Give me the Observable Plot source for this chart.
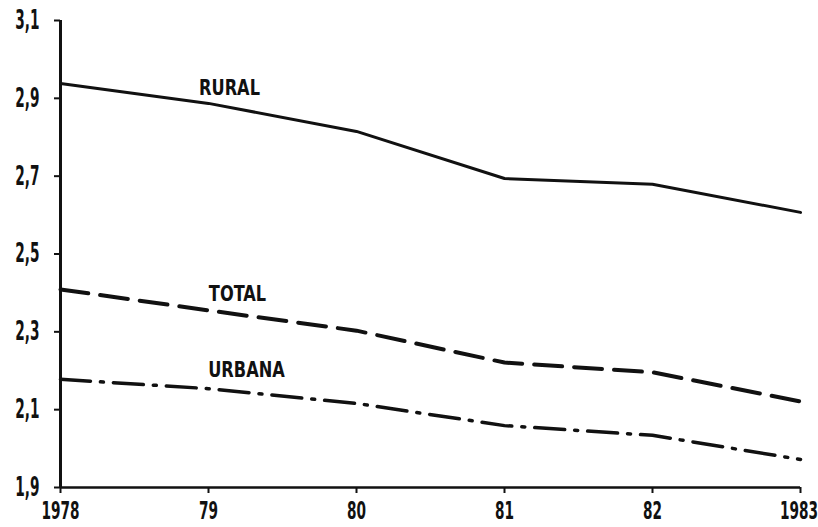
<!DOCTYPE html>
<html>
<head>
<meta charset="utf-8">
<script src="https://cdn.jsdelivr.net/npm/d3@7"></script>
<script src="https://cdn.jsdelivr.net/npm/@observablehq/plot@0.6"></script>
<style>
  html, body { margin: 0; padding: 0; background: #fff; }
  svg { font-family: "DejaVu Sans Condensed", "Liberation Sans Narrow", sans-serif; }
</style>
</head>
<body>
<div id="chart"></div>
<script>
const years = [1978, 1979, 1980, 1981, 1982, 1983];
const xTickLabels = ["1978", "79", "80", "81", "82", "1983"];
const yTicks = [1.9, 2.1, 2.3, 2.5, 2.7, 2.9, 3.1];
const rural = [2.938, 2.887, 2.815, 2.694, 2.679, 2.607];
const total = [2.409, 2.355, 2.303, 2.221, 2.196, 2.121];
const urbana = [2.178, 2.154, 2.116, 2.059, 2.034, 1.972];
const seriesNames = ["RURAL", "TOTAL", "URBANA"];

const toRows = (vals, name) => years.map((y, i) => ({year: y, value: vals[i], serie: name}));
const ruralRows = toRows(rural, "RURAL");
const totalRows = toRows(total, "TOTAL");
const urbanaRows = toRows(urbana, "URBANA");

// label anchored on each series' 1979 value, offset in pixels
const labelRows = [
  {serie: seriesNames[0], year: years[1], value: rural[1], dx: 21, dy: -15},
  {serie: seriesNames[1], year: years[1], value: total[1], dx: 29, dy: -16},
  {serie: seriesNames[2], year: years[1], value: urbana[1], dx: 38, dy: -19}
];

const fmtY = d => d.toFixed(1).replace(".", ",");
const fmtX = d => xTickLabels[years.indexOf(d)];

const chart = Plot.plot({
  width: 818,
  height: 527,
  marginLeft: 60,
  marginRight: 18,
  marginTop: 20,
  marginBottom: 40,
  style: {background: "#fff", color: "#111"},
  x: {domain: [1978, 1983], label: null},
  y: {domain: [1.9, 3.1], label: null},
  marks: [
    Plot.axisX({ticks: years, tickFormat: fmtX, tickSize: 6, tickPadding: 8, label: null, fontSize: 20, fontWeight: "bold", strokeWidth: 2}),
    Plot.axisY({ticks: yTicks, tickFormat: fmtY, tickSize: 6, tickPadding: 15, label: null, fontSize: 20, fontWeight: "bold", strokeWidth: 2}),
    Plot.ruleY([1.9], {x1: 1978, x2: 1983, stroke: "#111", strokeWidth: 2.5}),
    Plot.ruleX([1978], {y1: 1.9, y2: 3.1, stroke: "#111", strokeWidth: 3}),
    Plot.lineY(ruralRows, {x: "year", y: "value", stroke: "#111", strokeWidth: 3, strokeLinejoin: "round"}),
    Plot.lineY(totalRows, {x: "year", y: "value", stroke: "#111", strokeWidth: 4, strokeDasharray: "28,12", strokeLinejoin: "round"}),
    Plot.lineY(urbanaRows, {x: "year", y: "value", stroke: "#111", strokeWidth: 3.5, strokeDasharray: "30,10,3,10", strokeLinejoin: "round"}),
    ...labelRows.map(r => Plot.text([r], {x: "year", y: "value", text: "serie", dx: r.dx, dy: r.dy, fontSize: 18, fontWeight: "bold", fill: "#111", textAnchor: "middle"}))
  ]
});

// tall, narrow lettering like the reference: scale each glyph run around its own anchor
function stretch(texts, sx, sy) {
  texts.forEach(t => {
    const tr = t.getAttribute("transform");
    if (tr) {
      t.setAttribute("transform", tr + ` scale(${sx},${sy})`);
    } else {
      const x = +t.getAttribute("x") || 0, y = +t.getAttribute("y") || 0;
      t.removeAttribute("x"); t.removeAttribute("y");
      t.setAttribute("transform", `translate(${x},${y}) scale(${sx},${sy})`);
    }
  });
}
const xTexts = Array.from(chart.querySelectorAll("[aria-label='x-axis tick label'] text"));
const yTexts = Array.from(chart.querySelectorAll("[aria-label='y-axis tick label'] text"));
const sTexts = Array.from(chart.querySelectorAll("[aria-label='text'] text"));
stretch(xTexts, 0.76, 1.25);
stretch(yTexts, 0.76, 1.3);
stretch(sTexts, 1, 1.2);
if (xTexts.length) xTexts[xTexts.length - 1].setAttribute("dx", "-2");
document.getElementById("chart").appendChild(chart);
</script>
</body>
</html>
